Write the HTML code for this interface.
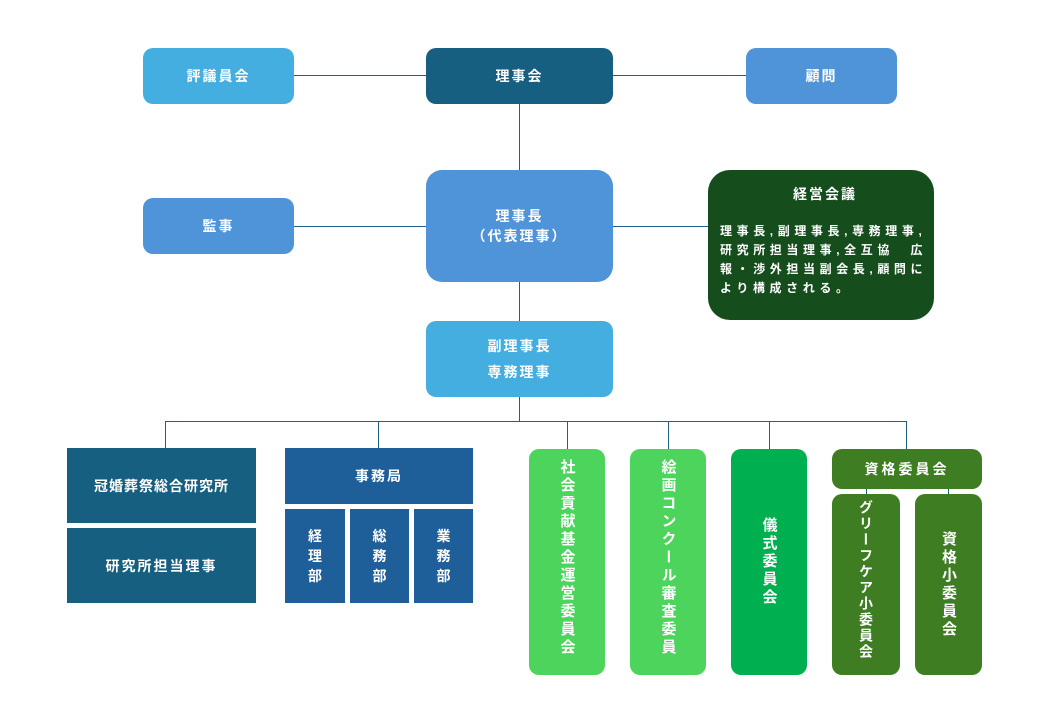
<!DOCTYPE html>
<html><head><meta charset="utf-8"><style>
body{margin:0;width:1040px;height:720px;background:#fff;position:relative;font-family:"Liberation Sans","Noto Sans CJK JP",sans-serif;font-weight:bold;color:#fff;overflow:hidden}
.b{position:absolute;display:flex;align-items:center;justify-content:center;text-align:center;font-size:14px;letter-spacing:2px;box-sizing:border-box}
.r{border-radius:10px}
.l{position:absolute;background:#1f5f8a}
.v{writing-mode:vertical-rl;letter-spacing:3px;font-size:15px;justify-content:flex-start;align-items:center}
</style></head><body>
<div class="l" style="left:294px;top:75px;width:452px;height:1px"></div>
<div class="l" style="left:519px;top:104px;width:1px;height:317px"></div>
<div class="l" style="left:294px;top:226px;width:414px;height:1px"></div>
<div class="l" style="left:165px;top:421px;width:742px;height:1px"></div>
<div class="l" style="left:165px;top:421px;width:1px;height:27px"></div>
<div class="l" style="left:378px;top:421px;width:1px;height:27px"></div>
<div class="l" style="left:567px;top:421px;width:1px;height:28px"></div>
<div class="l" style="left:668px;top:421px;width:1px;height:28px"></div>
<div class="l" style="left:769px;top:421px;width:1px;height:28px"></div>
<div class="l" style="left:906px;top:421px;width:1px;height:28px"></div>
<div class="l" style="left:866px;top:489px;width:1px;height:5px"></div>
<div class="l" style="left:948px;top:489px;width:1px;height:5px"></div>

<div class="b r" style="left:143px;top:48px;width:151px;height:56px;background:#45aee0">評議員会</div>
<div class="b r" style="left:426px;top:48px;width:187px;height:56px;background:#175f81">理事会</div>
<div class="b r" style="left:746px;top:48px;width:151px;height:56px;background:#4f94d8">顧問</div>
<div class="b r" style="left:143px;top:198px;width:151px;height:56px;background:#4f94d8">監事</div>
<div class="b" style="left:426px;top:170px;width:187px;height:112px;background:#4f94d8;border-radius:16px;line-height:20px">理事長<br>（代表理事）</div>
<div class="b" style="left:708px;top:170px;width:226px;height:150px;background:#154d1c;border-radius:22px;flex-direction:column;justify-content:flex-start;padding:14px 0 0 12px;align-items:flex-start">
<div style="font-size:14px;margin-bottom:18px;width:210px;text-align:center">経営会議</div>
<div style="font-size:12px;line-height:19px;text-align:left;letter-spacing:4.6px;white-space:nowrap">理事長,副理事長,専務理事,<br>研究所担当理事,全互協　広<br>報・渉外担当副会長,顧問に<br>より構成される。</div></div>
<div class="b r" style="left:426px;top:321px;width:187px;height:76px;background:#45aee0;line-height:26px">副理事長<br>専務理事</div>

<div class="b" style="left:67px;top:448px;width:189px;height:75px;background:#175f81;letter-spacing:1px">冠婚葬祭総合研究所</div>
<div class="b" style="left:67px;top:528px;width:189px;height:75px;background:#175f81">研究所担当理事</div>
<div class="b" style="left:285px;top:448px;width:188px;height:56px;background:#1f5f99">事務局</div>
<div class="b" style="left:285px;top:509px;width:60px;height:94px;background:#1f5f99;line-height:20px;letter-spacing:0">経<br>理<br>部</div>
<div class="b" style="left:350px;top:509px;width:59px;height:94px;background:#1f5f99;line-height:20px;letter-spacing:0">総<br>務<br>部</div>
<div class="b" style="left:414px;top:509px;width:59px;height:94px;background:#1f5f99;line-height:20px;letter-spacing:0">業<br>務<br>部</div>

<div class="b r v" style="left:529px;top:449px;width:76px;height:226px;background:#4cd45c;padding-top:10px">社会貢献基金運営委員会</div>
<div class="b r v" style="left:630px;top:449px;width:76px;height:226px;background:#4cd45c;padding-top:10px">絵画コンクール審査委員</div>
<div class="b r v" style="left:731px;top:449px;width:76px;height:226px;background:#00b050;justify-content:center">儀式委員会</div>
<div class="b r" style="left:832px;top:449px;width:150px;height:40px;background:#3e7d22;letter-spacing:3px">資格委員会</div>
<div class="b r v" style="left:832px;top:494px;width:68px;height:181px;background:#3e7d22;padding-top:6px;font-size:14px;letter-spacing:2px;white-space:nowrap">グリーフケア小委員会</div>
<div class="b r v" style="left:915px;top:494px;width:67px;height:181px;background:#3e7d22;justify-content:center">資格小委員会</div>
</body></html>
